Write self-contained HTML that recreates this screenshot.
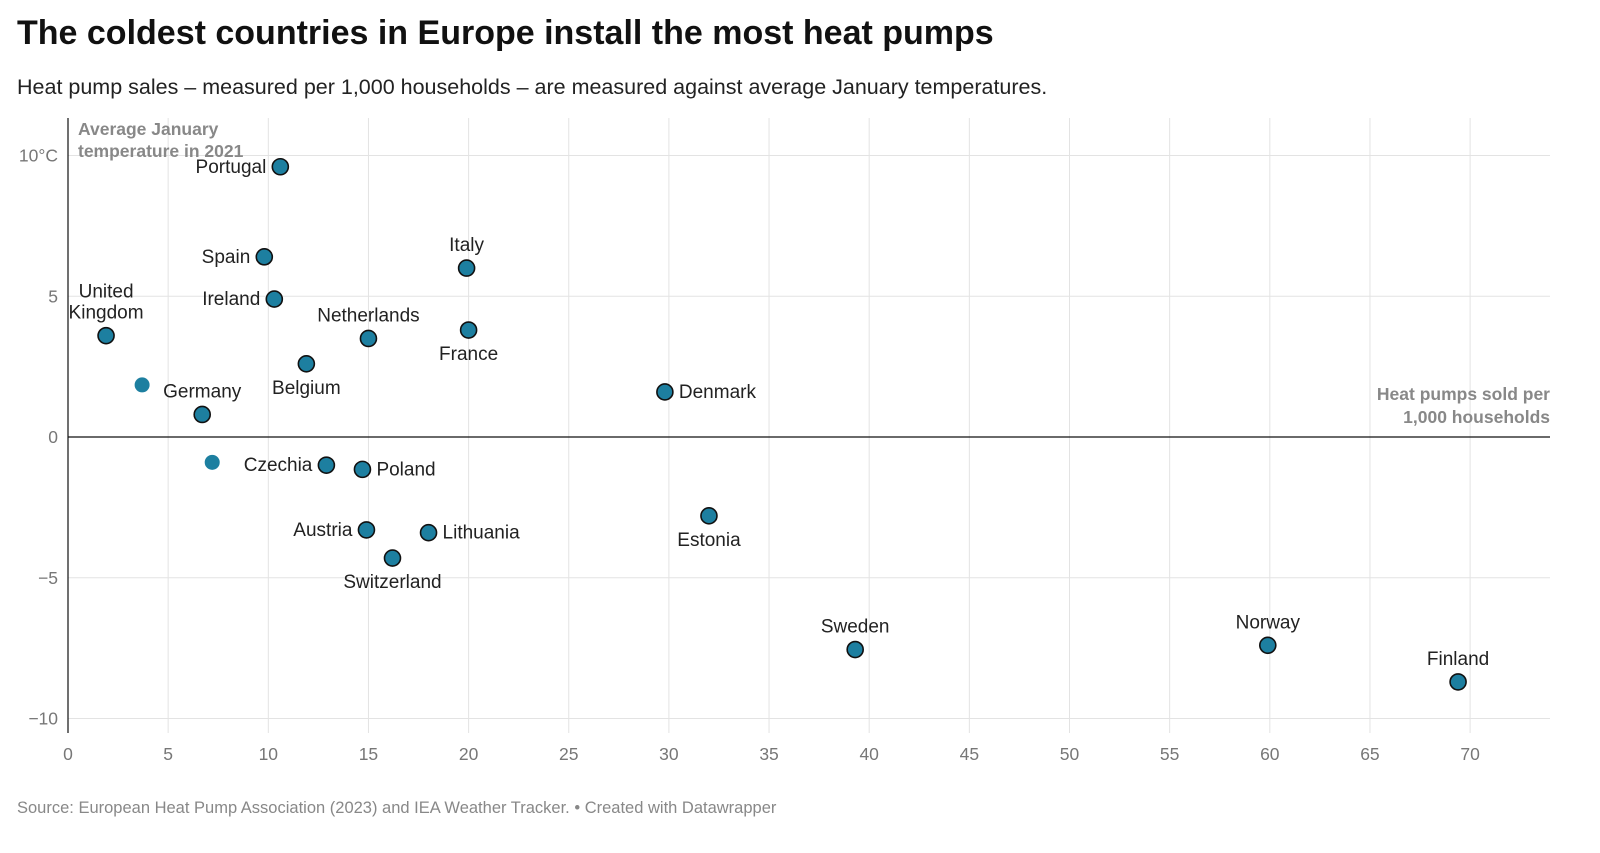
<!DOCTYPE html>
<html><head><meta charset="utf-8">
<style>
body{margin:0;background:#fff;font-family:"Liberation Sans",Arial,sans-serif;}
#wrap{position:relative;width:1600px;height:853px;overflow:hidden;}
h1{position:absolute;left:17px;top:14px;margin:0;font-size:34px;font-weight:bold;color:#111;}
.sub{position:absolute;left:17px;top:75px;font-size:21.5px;color:#222;}
.src{position:absolute;left:17px;top:799px;font-size:16.5px;color:#888;}
svg{position:absolute;left:0;top:0;}
</style></head><body>
<div id="wrap">
<h1>The coldest countries in Europe install the most heat pumps</h1>
<div class="sub">Heat pump sales – measured per 1,000 households – are measured against average January temperatures.</div>
<svg id="chart" width="1600" height="853"></svg>
<div class="src">Source: European Heat Pump Association (2023) and IEA Weather Tracker. • Created with Datawrapper</div>
</div>
<script>
const countries=["Portugal","Spain","Ireland","United Kingdom","Netherlands","Italy","France","Belgium","","Germany","Denmark","","Czechia","Poland","Austria","Lithuania","Switzerland","Estonia","Sweden","Norway","Finland"];
const heatPumps=[10.6,9.8,10.3,1.9,15.0,19.9,20.0,11.9,3.7,6.7,29.8,7.2,12.9,14.7,14.9,18.0,16.2,32.0,39.3,59.9,69.4];
const janTemp=[9.6,6.4,4.9,3.6,3.5,6.0,3.8,2.6,1.85,0.8,1.6,-0.9,-1.0,-1.15,-3.3,-3.4,-4.3,-2.8,-7.55,-7.4,-8.7];
const labelPos=["left","left","left","above","above","above","below","below","none","above","right","none","left","right","left","right","below","below","above","above","above"];
const xTicks=[0,5,10,15,20,25,30,35,40,45,50,55,60,65,70];
const yTicks=[10,5,0,-5,-10];
const yTickLabels=["10°C","5","0","−5","−10"];

const NS="http://www.w3.org/2000/svg";
const svg=document.getElementById('chart');
const X=v=>68+v*20.03;
const Y=v=>437-v*28.15;
const L=68,R=1550,T=118,B=733;
function el(t,a,txt){const e=document.createElementNS(NS,t);for(const k in a)e.setAttribute(k,a[k]);if(txt!==undefined)e.textContent=txt;svg.appendChild(e);return e;}

xTicks.forEach(t=>{
 if(t>0){const g=el('line',{x1:X(t),x2:X(t),y1:T,y2:B,stroke:'#e3e3e3','stroke-width':1});
 
 }
 const tx=el('text',{x:X(t),y:760,'text-anchor':'middle','font-size':17.5,fill:'#777'},String(t));
 
 
});
yTicks.forEach((t,i)=>{
 if(t!==0){const g=el('line',{x1:L,x2:R,y1:Y(t),y2:Y(t),stroke:'#e3e3e3','stroke-width':1});
 
 }
 const tx=el('text',{x:58,y:Y(t)+6,'text-anchor':'end','font-size':17.5,fill:'#777'},yTickLabels[i]);
 
 
});
const z1=el('line',{x1:L,x2:R,y1:Y(0),y2:Y(0),stroke:'#111','stroke-width':1.2});


const z2=el('line',{x1:X(0),x2:X(0),y1:T,y2:B,stroke:'#111','stroke-width':1.2});



const yt=el('text',{x:78,y:135,'font-size':17.5,'font-weight':'bold',fill:'#888'});


yt.innerHTML='<tspan x="78">Average January</tspan><tspan x="78" dy="22">temperature in 2021</tspan>';
const xt=el('text',{x:1550,y:400,'font-size':17.5,'font-weight':'bold',fill:'#888','text-anchor':'end'});


xt.innerHTML='<tspan x="1550">Heat pumps sold per</tspan><tspan x="1550" dy="23">1,000 households</tspan>';

countries.forEach((c,i)=>{
 const cx=X(heatPumps[i]),cy=Y(janTemp[i]);
 const lab=c!=="";
 const p=el('circle',{cx:cx,cy:cy,r:lab?8:7.5,fill:'#1d7fa0',stroke:lab?'#111':'none','stroke-width':1.6});
 
 
 if(!lab)return;
 const pos=labelPos[i];let a={'font-size':19,fill:'#222'};
 if(pos==='left'){a.x=cx-14;a.y=cy+6;a['text-anchor']='end';}
 else if(pos==='right'){a.x=cx+14;a.y=cy+6;a['text-anchor']='start';}
 else if(pos==='above'){a.x=cx;a.y=cy-17;a['text-anchor']='middle';}
 else {a.x=cx;a.y=cy+30;a['text-anchor']='middle';}
 const t=el('text',a);
 if(c==="United Kingdom"){t.innerHTML='<tspan x="'+cx+'" dy="-21">United</tspan><tspan x="'+cx+'" dy="21">Kingdom</tspan>';}
 else t.textContent=c;
 
 
});
</script>
</body></html>
